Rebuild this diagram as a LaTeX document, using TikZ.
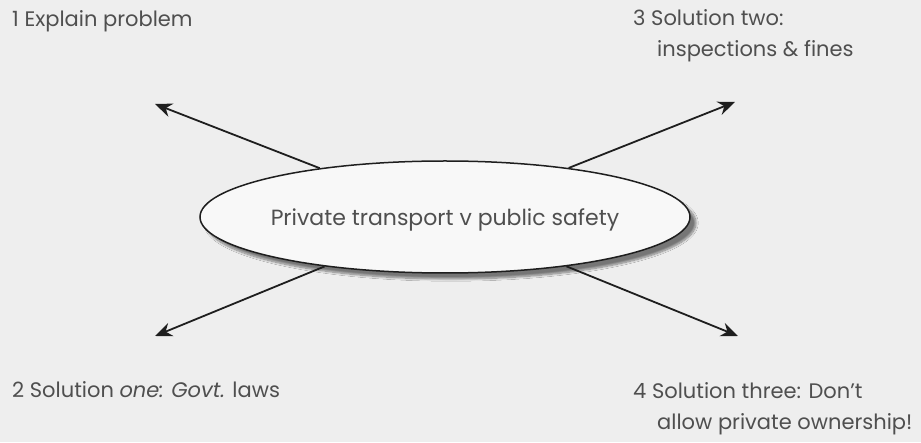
\documentclass[tikz,border=0pt]{standalone}
\usepackage{fontspec}
\setmainfont{Poppins}
\usetikzlibrary{arrows.meta,shapes.geometric,shadows.blur}
\definecolor{bg}{HTML}{EEEEEE}
\definecolor{txt}{HTML}{4F4F4F}
\definecolor{ink}{HTML}{1E1E1E}
\begin{document}
\begin{tikzpicture}[x=1pt,y=1pt,
  lbl/.style={text=txt,font=\fontsize{21}{31}\selectfont,inner sep=0pt,align=left},
  conn/.style={draw=ink,line width=1.8pt,-{Stealth[length=17pt,width=14pt]}},
  bubble/.style={ellipse,draw=ink,line width=1.5pt,fill=white!60!bg,
     minimum width=490pt,minimum height=112pt,inner sep=0pt,
     blur shadow={shadow xshift=6pt,shadow yshift=-6pt,shadow blur steps=10,shadow opacity=50}}]
\fill[bg] (0,0) rectangle (921,442);
\useasboundingbox (0,0) rectangle (921,442);
\node[bubble] (ell) at (445,225) {};
\node[lbl,font=\fontsize{22}{30}\selectfont] (title) at (445,222) {Private transport v public safety};
\coordinate (t1) at (155,338);
\coordinate (t2) at (155,106);
\coordinate (t3) at (735,340);
\coordinate (t4) at (738,106);
\draw[conn] (ell) -- (t1);
\draw[conn] (ell) -- (t2);
\draw[conn] (ell) -- (t3);
\draw[conn] (ell) -- (t4);
\node[lbl,anchor=west] (l1) at (12,421) {1 Explain problem};
\node[lbl,anchor=north west] (l3) at (633,433) {3 Solution two:\\\hspace*{24pt}inspections \& fines};
\node[lbl,anchor=west] (l2) at (12,52) {2 Solution \textit{one:} \textit{Govt.} laws};
\node[lbl,anchor=north west] (l4) at (633,60) {4 Solution three: Don't\\\hspace*{24pt}allow private ownership!};
\end{tikzpicture}
\end{document}
